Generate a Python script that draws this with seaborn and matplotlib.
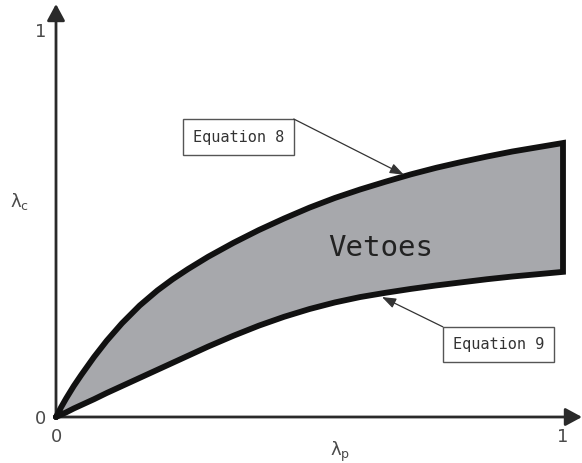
import numpy as np
import pandas as pd
import matplotlib
matplotlib.use("Agg")
import matplotlib.pyplot as plt
import matplotlib.patches as mpatches
import seaborn as sns

# ---- data ----
lam_p = [0.0, 0.01, 0.02, 0.035, 0.05, 0.075, 0.10, 0.13, 0.165, 0.20, 0.23, 0.26,
         0.30, 0.35, 0.40, 0.45, 0.50, 0.55, 0.60, 0.65, 0.70, 0.75, 0.80, 0.85,
         0.90, 0.95, 1.00]
eq8 = [0.0, 0.025, 0.048, 0.080, 0.109, 0.155, 0.197, 0.242, 0.288, 0.327, 0.356, 0.382,
       0.414, 0.450, 0.483, 0.513, 0.541, 0.566, 0.588, 0.608, 0.627, 0.644, 0.659, 0.673,
       0.686, 0.697, 0.708]
eq9 = [0.0, 0.006, 0.012, 0.022, 0.031, 0.046, 0.062, 0.080, 0.101, 0.122, 0.140, 0.158,
       0.182, 0.210, 0.236, 0.259, 0.279, 0.296, 0.310, 0.321, 0.331, 0.340, 0.348, 0.356,
       0.363, 0.369, 0.375]
x_ticks = [0, 1]
y_ticks = [0, 1]
tick_labels = ["0", "1"]
region_label = "Vetoes"
eq8_label = "Equation 8"
eq9_label = "Equation 9"

sns.set_theme(style="white")
plt.rcParams["font.family"] = ["DejaVu Sans"]

fig = plt.figure(figsize=(5.82, 4.63), dpi=100)
ax = fig.add_axes([0, 0, 1, 1])
ax.set_xlim(-56 / 507, (582 - 56) / 507)
ax.set_ylim((417 - 463) / 387, 417 / 387)

# filled region
poly_x = lam_p + lam_p[::-1] + [lam_p[0]]
poly_y = eq8 + eq9[::-1] + [eq8[0]]
ax.fill(poly_x, poly_y, facecolor="#a7a8ac", edgecolor="none", zorder=2)
outline = pd.DataFrame({"x": poly_x, "y": poly_y})
sns.lineplot(data=outline, x="x", y="y", sort=False, estimator=None, ax=ax,
             color="#111111", linewidth=4.2, zorder=3)
for ln in ax.lines:
    ln.set_solid_joinstyle("miter")

# axes with arrows
axis_color = "#2a2a2a"
ax.annotate("", xy=(ax.get_xlim()[1], 0), xytext=(0, 0),
            arrowprops=dict(arrowstyle="-|>,head_length=0.5,head_width=0.27",
                            lw=2.0, color=axis_color, mutation_scale=20,
                            shrinkA=0, shrinkB=0), zorder=1)
ax.annotate("", xy=(0, (417 - 4) / 387), xytext=(0, 0),
            arrowprops=dict(arrowstyle="-|>,head_length=0.5,head_width=0.27",
                            lw=2.0, color=axis_color, mutation_scale=20,
                            shrinkA=0, shrinkB=0), zorder=1)

# ticks / labels
for s in ax.spines.values():
    s.set_visible(False)
ax.spines["bottom"].set_position(("data", 0))
ax.spines["left"].set_position(("data", 0))
ax.set_xticks(x_ticks)
ax.set_xticklabels(tick_labels)
ax.set_yticks(y_ticks)
ax.set_yticklabels(tick_labels)
ax.tick_params(axis="both", length=0, labelsize=13, labelcolor="#4a4a4a")
ax.tick_params(axis="x", pad=8)
ax.tick_params(axis="y", pad=7)
ax.set_xlabel(r"$\mathregular{\lambda_p}$", fontsize=13, color="#4a4a4a")
ax.set_ylabel(r"$\mathregular{\lambda_c}$", fontsize=13, color="#4a4a4a", rotation=0)
ax.xaxis.set_label_coords(340 / 582, 1 - 440 / 463)
ax.yaxis.set_label_coords(20 / 582, 1 - 212 / 463)
ax.grid(False)

# region label
ax.text(0.641, 0.437, region_label, family="DejaVu Sans Mono", fontsize=21,
        color="#222222", ha="center", va="center", zorder=4)

# equation boxes
def box(x0, y0, x1, y1, label):
    ax.add_patch(mpatches.Rectangle((x0, y0), x1 - x0, y1 - y0, facecolor="white",
                                    edgecolor="#555555", lw=1.0, zorder=5))
    ax.text((x0 + x1) / 2, (y0 + y1) / 2, label, family="DejaVu Sans Mono",
            fontsize=11, color="#333333", ha="center", va="center", zorder=6)

box(0.250, 0.677, 0.469, 0.770, eq8_label)
box(0.763, 0.142, 0.982, 0.233, eq9_label)

arrow_kw = dict(arrowstyle="-|>,head_length=0.6,head_width=0.22", lw=0.9,
                color="#333333", mutation_scale=14, shrinkA=0, shrinkB=0)
ax.annotate("", xy=(0.686, 0.626), xytext=(0.469, 0.770), arrowprops=arrow_kw, zorder=6)
ax.annotate("", xy=(0.643, 0.310), xytext=(0.763, 0.233), arrowprops=arrow_kw, zorder=6)

fig.savefig("out.png", dpi=100)
